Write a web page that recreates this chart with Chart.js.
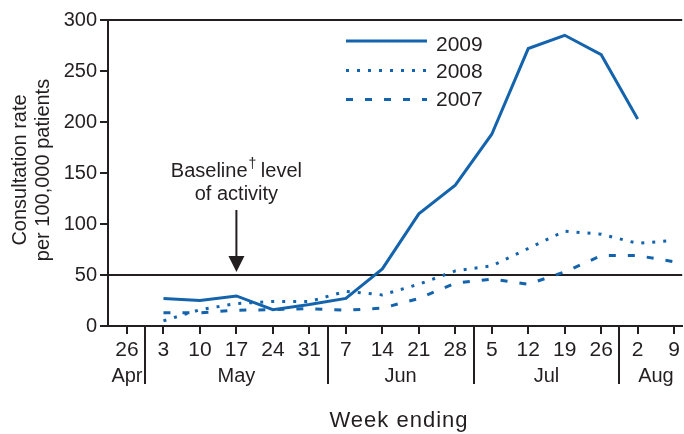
<!DOCTYPE html>
<html>
<head>
<meta charset="utf-8">
<script src="https://cdn.jsdelivr.net/npm/chart.js@4/dist/chart.umd.min.js"></script>
<style>
  body { margin: 0; background: #fff; }
  canvas { display: block; }
</style>
</head>
<body>
<canvas id="chart" width="684" height="434"></canvas>
<script>
// week ending labels (26 Apr .. 9 Aug)
const weeks = ['26', '3', '10', '17', '24', '31', '7', '14', '21', '28', '5', '12', '19', '26', '2', '9'];
const monthLabels = ['Apr', 'May', 'Jun', 'Jul', 'Aug'];
const monthFirst = [0, 1, 6, 10, 14];
const monthLast = [0, 5, 9, 13, 15];

const rate2009 = [null, 27, 25, 29.5, 16, 21, 27, 56, 110, 138, 188, 272, 285, 266, 203, null];
const rate2008 = [null, 5, 16, 22, 24, 24, 34, 30.5, 41, 54, 59, 76, 93, 90, 81, 84];
const rate2007 = [null, 13, 13, 15.5, 16, 17, 15.5, 17.5, 27, 42, 46, 41, 53, 69, 69, 63];

const yTicks = [0, 50, 100, 150, 200, 250, 300];
const baseline = 50;

const FONT = "'Liberation Sans', Arial, Helvetica, sans-serif";
const INK = '#231f20';
const BLUE = '#1464ad';

const toPoints = arr => arr.map((v, i) => ({ x: i, y: v }));

const series = [
  { label: '2009', data: rate2009, dash: [] },
  { label: '2008', data: rate2008, dash: [3, 8] },
  { label: '2007', data: rate2007, dash: [7, 12] }
];

const extras = {
  id: 'extras',
  beforeDatasetsDraw(chart) {
    const { ctx, chartArea: a, scales: { y } } = chart;
    ctx.save();
    ctx.strokeStyle = INK;
    ctx.lineWidth = 2;
    ctx.beginPath();
    ctx.moveTo(a.left, a.top);
    ctx.lineTo(a.right, a.top);
    const yb = Math.round(y.getPixelForValue(baseline));
    ctx.moveTo(a.left, yb);
    ctx.lineTo(a.right, yb);
    ctx.stroke();
    ctx.restore();
  },
  afterDraw(chart) {
    const { ctx, chartArea: a, scales: { x, y } } = chart;
    ctx.save();
    ctx.fillStyle = INK;
    ctx.strokeStyle = INK;

    // month separators and labels
    ctx.lineWidth = 2;
    ctx.font = '20px ' + FONT;
    ctx.textAlign = 'center';
    ctx.textBaseline = 'middle';
    monthLabels.forEach((m, i) => {
      if (i > 0) {
        const sx = Math.round(x.getPixelForValue(monthFirst[i] - 0.5));
        ctx.beginPath();
        ctx.moveTo(sx, a.bottom);
        ctx.lineTo(sx, a.bottom + 58);
        ctx.stroke();
      }
      const cx = x.getPixelForValue((monthFirst[i] + monthLast[i]) / 2);
      ctx.fillText(m, cx, a.bottom + 50);
    });

    // axis titles
    ctx.textBaseline = 'alphabetic';
    ctx.font = '22px ' + FONT;
    ctx.letterSpacing = '1px';
    ctx.fillText('Week ending', 399, 427);
    ctx.letterSpacing = '0px';
    ctx.font = '20px ' + FONT;
    ctx.textBaseline = 'middle';
    ctx.save();
    ctx.translate(20.5, 170);
    ctx.rotate(-Math.PI / 2);
    ctx.fillText('Consultation rate', 0, 0);
    ctx.fillText('per 100,000 patients', 0, 23);
    ctx.restore();

    // annotation arrow
    const ax = x.getPixelForValue(3);
    const tip = y.getPixelForValue(baseline) - 3;
    const t1 = 'Baseline', t2 = '\u2020', t3 = ' level';
    ctx.textBaseline = 'alphabetic';
    ctx.font = '20px ' + FONT;
    const w1 = ctx.measureText(t1).width, w3 = ctx.measureText(t3).width;
    ctx.font = '14px ' + FONT;
    const w2 = ctx.measureText(t2).width;
    let tx = ax - (w1 + w2 + w3) / 2;
    ctx.textAlign = 'left';
    ctx.font = '20px ' + FONT;
    ctx.fillText(t1, tx, 177);
    ctx.font = '14px ' + FONT;
    ctx.fillText(t2, tx + w1 + 1, 168);
    ctx.font = '20px ' + FONT;
    ctx.fillText(t3, tx + w1 + w2, 177);
    ctx.textAlign = 'center';
    ctx.fillText('of activity', ax, 200);
    ctx.beginPath();
    ctx.moveTo(ax, 210);
    ctx.lineTo(ax, tip - 14);
    ctx.stroke();
    ctx.beginPath();
    ctx.moveTo(ax - 8, tip - 16);
    ctx.lineTo(ax + 8, tip - 16);
    ctx.lineTo(ax, tip);
    ctx.closePath();
    ctx.fill();

    // legend
    const lineY = [41, 70.5, 99.5];
    const textY = [50.7, 78.3, 106];
    series.forEach((s, i) => {
      ctx.strokeStyle = BLUE;
      ctx.lineWidth = 3;
      ctx.setLineDash(s.dash);
      ctx.beginPath();
      ctx.moveTo(346, lineY[i]);
      ctx.lineTo(427, lineY[i]);
      ctx.stroke();
      ctx.setLineDash([]);
      ctx.fillStyle = INK;
      ctx.textAlign = 'left';
      ctx.textBaseline = 'alphabetic';
      ctx.font = '21px ' + FONT;
      ctx.fillText(s.label, 436, textY[i]);
    });
    ctx.restore();
  }
};

new Chart(document.getElementById('chart'), {
  type: 'line',
  data: {
    datasets: series.map(s => ({
      label: s.label,
      data: toPoints(s.data),
      borderColor: BLUE,
      borderWidth: 3,
      borderDash: s.dash,
      pointRadius: 0,
      tension: 0,
      spanGaps: false
    }))
  },
  options: {
    responsive: false,
    animation: false,
    layout: { padding: { top: 20, right: 0, left: 0, bottom: 0 } },
    plugins: { legend: { display: false }, tooltip: { enabled: false } },
    scales: {
      x: {
        type: 'linear',
        min: -0.52,
        max: 15.22,
        afterBuildTicks: s => { s.ticks = weeks.map((_, i) => ({ value: i })); },
        afterFit: s => { s.height = 108; },
        ticks: {
          callback: v => weeks[v],
          autoSkip: false,
          maxRotation: 0,
          padding: 4,
          color: INK,
          font: { family: FONT, size: 21 }
        },
        grid: { drawOnChartArea: false, tickLength: 8, lineWidth: 2, color: INK },
        border: { color: INK, width: 2 }
      },
      y: {
        min: 0,
        max: 300,
        afterBuildTicks: s => { s.ticks = yTicks.map(v => ({ value: v })); },
        afterFit: s => { s.width = 108; },
        ticks: {
          padding: 3,
          color: INK,
          font: { family: FONT, size: 20 }
        },
        grid: { drawOnChartArea: false, tickLength: 8, lineWidth: 2, color: INK },
        border: { color: INK, width: 2 }
      }
    }
  },
  plugins: [extras]
});
</script>
</body>
</html>
